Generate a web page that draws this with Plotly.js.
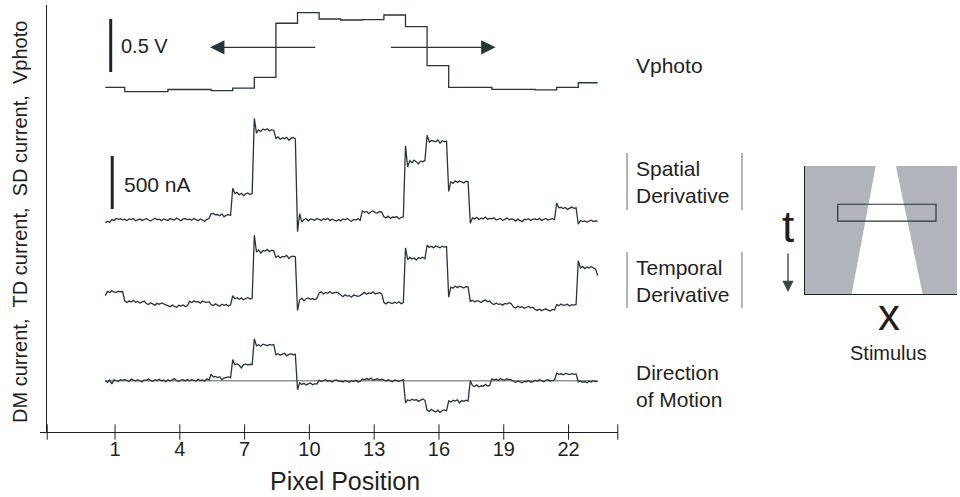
<!DOCTYPE html>
<html>
<head>
<meta charset="utf-8">
<script src="https://cdn.plot.ly/plotly-3.0.1.min.js"></script>
<style>
  html, body { margin: 0; padding: 0; background: #ffffff; }
  #chart { width: 960px; height: 497px; }
</style>
</head>
<body>
<div id="chart"></div>
<script>
// Pixel positions of the sensor row and the labelled ticks
const pixels = [1, 2, 3, 4, 5, 6, 7, 8, 9, 10, 11, 12, 13, 14, 15, 16, 17, 18, 19, 20, 21, 22, 23];
const tickPixels = [1, 4, 7, 10, 13, 16, 19, 22];

// Photoreceptor voltage, one level per pixel (V, relative to the dark level)
const vphoto = [0.016, -0.025, -0.025, -0.005, -0.005, -0.016, 0.009, 0.110, 0.620, 0.720, 0.660,
                0.651, 0.655, 0.698, 0.588, 0.220, 0.016, 0.016, -0.003, -0.003, -0.009, 0.016, 0.059];

// Sensor currents in nA, ten samples per pixel (the first pixel is cut to nine)
const sdCurrent = [
  -25, -12, -22, 4, -4, 15, 6, 12, 2,
  8, -6, 10, 4, 14, -8, 2, 9, -4, 6,
  12, 0, -10, 5, 16, 3, 8, -6, 10, 2,
  -4, 14, 6, 0, 18, 5, -7, 10, 12, 3,
  8, -2, 15, 4, -6, 10, 2, -12, 6, 14,
  60, 62, 48, 52, 40, 58, 30, 46, 50, 44,
  300, 250, 262, 238, 252, 230, 246, 255, 240, 250,
  960, 820, 850, 835, 858, 848, 860, 840, 852, 845,
  770, 785, 760, 775, 768, 780, 752, 772, 778, 765,
  -110, 60, -20, 5, 12, -8, 10, 4, -2, 14,
  6, -4, 12, 3, 16, -6, 8, 2, -10, 5,
  -8, 10, 2, 14, -2, -14, 6, 0, 12, -4,
  85, 72, 80, 60, 78, 85, 70, 66, 80, 74,
  30, 20, 36, 15, 28, 24, 32, 10, 26, 30,
  700, 500, 560, 540, 565, 545, 530, 555, 550, 560,
  800, 735, 750, 745, 738, 755, 725, 748, 740, 745,
  270, 360, 345, 370, 355, 368, 360, 350, 365, 360,
  -30, 20, 10, 25, 5, 18, 12, 28, 8, 15,
  12, 20, 0, 10, 15, -5, 8, 18, 2, 10,
  5, -10, 8, 0, -15, 6, 3, 12, -4, 8,
  10, 2, 15, -4, 8, 14, 0, 6, 12, 4,
  160, 115, 120, 108, 118, 100, 112, 122, 110, 115,
  -40, -5, -15, -8, -20, -10, -2, -14, -8, -10
];
const tdCurrent = [
  70, 110, 100, 115, 104, 98, 112, 106, 108,
  20, 5, 18, 10, 25, 8, 15, 0, 12, 18,
  -5, -15, 2, -10, -20, -3, -12, 0, -8, -14,
  -25, -35, -20, -30, -42, -22, -28, -18, -34, -26,
  15, 5, 20, 8, 14, -2, 18, 10, 6, 12,
  -15, -25, -8, -20, -30, -12, -22, -15, -28, -18,
  70, 40, 50, 35, 48, 30, 45, 52, 38, 44,
  640, 480, 500, 470, 495, 490, 505, 485, 498, 492,
  430, 445, 425, 440, 436, 450, 420, 438, 442, 435,
  -70, 30, 45, 20, 40, 48, 35, 42, 30, 45,
  95, 105, 85, 100, 92, 108, 90, 98, 102, 94,
  72, 60, 78, 65, 70, 55, 75, 68, 62, 70,
  88, 100, 82, 95, 90, 105, 85, 92, 98, 88,
  5, -8, 10, 0, -5, 8, -2, 12, -6, 4,
  520, 410, 430, 415, 425, 405, 428, 420, 432, 418,
  545, 525, 535, 520, 540, 530, 522, 536, 528, 532,
  55, 150, 140, 160, 145, 158, 150, 142, 155, 150,
  15, 25, 10, 22, 18, 5, 20, 28, 12, 18,
  -5, -15, 0, -12, -8, -20, -4, -10, 2, -8,
  -38, -48, -30, -42, -35, -50, -40, -32, -45, -40,
  -60, -70, -58, -72, -62, -55, -68, -75, -60, -65,
  -15, -25, -10, -22, -18, -12, -28, -16, -20, -14,
  400, 330, 345, 325, 340, 330, 345, 335, 320, 260
];
const dmCurrent = [
  0, -15, 5, -30, 8, 2, -6, 10, 4,
  12, 2, -8, 15, 6, -4, 10, 0, -12, 8,
  4, 16, 0, -6, 10, 2, 14, -2, 6, -10,
  8, -4, 12, 20, 2, -8, 6, 10, -2, 12,
  0, 10, 4, -6, 14, 2, 8, -4, 18, 6,
  60, 35, 40, 30, 38, 10, 25, 30, 35, 28,
  200, 150, 160, 145, 120, 150, 158, 148, 155, 152,
  395, 330, 340, 325, 345, 338, 330, 342, 335, 340,
  245, 255, 240, 250, 258, 235, 248, 252, 245, 250,
  -85, -20, -35, -25, -40, -30, -22, -38, -28, -32,
  5, -8, 0, 10, -5, 2, -12, 4, 8, -4,
  -5, -12, 2, -10, -15, 0, -8, 5, -12, -6,
  15, 8, 20, 10, 25, 5, 12, 18, 6, 14,
  5, -4, 8, 2, -10, 6, 0, -6, 4, 8,
  -210, -180, -190, -175, -185, -178, -195, -180, -172, -185,
  -280, -290, -270, -285, -295, -278, -300, -282, -275, -285,
  -190, -200, -185, -192, -180, -210, -188, -195, -185, -190,
  0, -45, -55, -40, -60, -48, -52, -35, -50, -45,
  18, 8, 15, 2, 20, 10, 5, 16, 12, 8,
  -5, -15, -2, -12, -20, -6, -10, 0, -14, -8,
  5, -6, 8, 0, -10, 4, 10, -4, 2, 6,
  70, 60, 65, 55, 68, 62, 58, 66, 60, 64,
  -10, -2, -15, -8, -20, -5, -12, 0, -8, -6
];

// Scale bars
const scaleVolts = 0.5;
const scaleNanoAmps = 500;

// Stimulus sketch: bright wedge in x-t space and the sampling window
const wedgeX = [0.465, 0.598, 0.774, 0.307, 0.465];
const wedgeT = [0, 0, 1, 1, 0];
const windowX = [0.215, 0.862, 0.862, 0.215, 0.215];
const windowT = [0.299, 0.299, 0.43, 0.43, 0.299];

// ---- stacking of the four records on one shared vertical scale (nA; 1 V drawn as 1000) ----
const UNITS_PER_VOLT = 1000;
const VP_BASE = 3236, SD_BASE = 2000, TD_BASE = 1217, DM_BASE = 484;
const FIRST_SAMPLE = 0.55, SAMPLE_STEP = 0.1, LAST_EDGE = 23.35;

const sampleX = sdCurrent.map((_, i) => +(FIRST_SAMPLE + SAMPLE_STEP * i).toFixed(2));
const vpX = pixels.map(p => Math.max(p - 0.55, FIRST_SAMPLE)).concat([LAST_EDGE]);
const vpY = vphoto.concat([vphoto[vphoto.length - 1]]).map(v => VP_BASE + v * UNITS_PER_VOLT);

const INK = '#27363b';
const TEXT = '#1f1f1f';
const FONT = 'Liberation Sans, Arial, Helvetica, sans-serif';

// page geometry helpers (pixel -> paper)
const W = 960, H = 497, L = 47, R = 2, T = 5, B = 65;
const plotW = W - L - R, plotH = H - T - B;
const px = x => (x - L) / plotW;
const py = y => (H - B - y) / plotH;

const xRange = [-2.15, 24.29];
const yRange = [0, plotH / 0.106];
const mainDomain = [0, px(618)];
// tick marks cross the axis line, including both ends of the axis
const axisTicks = [-2.14].concat(tickPixels, [24.28]);

const traces = [
  { x: vpX, y: vpY, mode: 'lines', line: { color: INK, width: 1.3, shape: 'hv' }, hoverinfo: 'skip' },
  { x: sampleX, y: sdCurrent.map(v => SD_BASE + v), mode: 'lines', line: { color: INK, width: 1.3 }, hoverinfo: 'skip' },
  { x: sampleX, y: tdCurrent.map(v => TD_BASE + v), mode: 'lines', line: { color: INK, width: 1.3 }, hoverinfo: 'skip' },
  { x: sampleX, y: dmCurrent.map(v => DM_BASE + v), mode: 'lines', line: { color: INK, width: 1.3 }, hoverinfo: 'skip' },
  { x: axisTicks, y: axisTicks.map(() => 0), mode: 'markers', cliponaxis: false, hoverinfo: 'skip',
    marker: { symbol: 'line-ns-open', size: 11, color: TEXT, line: { color: TEXT, width: 1 } } },
  { x: wedgeX, y: wedgeT, xaxis: 'x3', yaxis: 'y3', mode: 'lines', fill: 'toself',
    fillcolor: '#ffffff', line: { width: 0, color: '#ffffff' }, hoverinfo: 'skip' },
  { x: windowX, y: windowT, xaxis: 'x3', yaxis: 'y3', mode: 'lines',
    line: { color: INK, width: 1.2 }, hoverinfo: 'skip' }
];

const label = (text, x, y, opts) => Object.assign({
  text: text, x: px(x), y: py(y), xref: 'paper', yref: 'paper', showarrow: false,
  xanchor: 'left', yanchor: 'middle', align: 'left',
  font: { family: FONT, size: 21, color: TEXT }
}, opts || {});

const annotations = [
  label('0.5 V', 119, 46, { font: { family: FONT, size: 20, color: TEXT } }),
  label('500 nA', 122, 184),
  label('Vphoto', 634, 65),
  label('Spatial<br>Derivative', 634, 182),
  label('Temporal<br>Derivative', 634, 281),
  label('Direction<br>of Motion', 634, 386),
  label('t', 787.5, 226, { xanchor: 'center', font: { family: FONT, size: 44, color: TEXT } }),
  label('x', 889, 314, { xanchor: 'center', font: { family: FONT, size: 44, color: TEXT } }),
  label('Stimulus', 888.7, 353, { xanchor: 'center', font: { family: FONT, size: 20, color: TEXT } }),
  label('Pixel Position', 345, 481, { xanchor: 'center', font: { family: FONT, size: 25, color: TEXT } }),
  label('DM current,\u00a0\u00a0TD current,\u00a0\u00a0SD current,\u00a0\u00a0Vphoto', 20, 222,
        { xanchor: 'center', textangle: -90, font: { family: FONT, size: 20, color: TEXT } }),
  // motion arrows over the photoreceptor record
  { x: 5.4, y: 3629, ax: 10.34, ay: 3629, xref: 'x', yref: 'y', axref: 'x', ayref: 'y', text: '',
    showarrow: true, arrowhead: 2, arrowsize: 2.4, arrowwidth: 1.2, arrowcolor: INK },
  { x: 18.62, y: 3629, ax: 13.71, ay: 3629, xref: 'x', yref: 'y', axref: 'x', ayref: 'y', text: '',
    showarrow: true, arrowhead: 2, arrowsize: 2.4, arrowwidth: 1.2, arrowcolor: INK },
  // time arrow of the stimulus sketch
  { x: px(788), y: py(292), ax: 0, ay: -40, xref: 'paper', yref: 'paper', text: '',
    showarrow: true, arrowhead: 2, arrowsize: 1.6, arrowwidth: 1.4, arrowcolor: '#3a474c' }
];

const bracket = (x, y0, y1) => ({
  type: 'line', xref: 'paper', yref: 'paper', x0: px(x), x1: px(x), y0: py(y0), y1: py(y1),
  line: { color: '#6d6d6d', width: 1 }
});

const shapes = [
  // scale bars
  { type: 'line', xref: 'x', yref: 'y', x0: 0.8, x1: 0.8, y0: VP_BASE + 160, y1: VP_BASE + 160 + scaleVolts * UNITS_PER_VOLT,
    line: { color: '#1a2629', width: 3 } },
  { type: 'line', xref: 'x', yref: 'y', x0: 0.87, x1: 0.87, y0: SD_BASE + 104, y1: SD_BASE + 104 + scaleNanoAmps,
    line: { color: '#1a2629', width: 3 } },
  // zero line of the direction-of-motion record
  { type: 'line', xref: 'x', yref: 'y', x0: FIRST_SAMPLE, x1: LAST_EDGE, y0: DM_BASE, y1: DM_BASE,
    line: { color: '#8f969a', width: 1.6 }, layer: 'below' },
  bracket(627, 153, 210), bracket(742, 153, 210),
  bracket(627, 252, 308), bracket(742, 252, 308),
  // stimulus background
  { type: 'rect', xref: 'x3 domain', yref: 'y3 domain', x0: 0, x1: 1, y0: 0, y1: 1,
    fillcolor: '#b1b4ba', line: { width: 0 }, layer: 'below' }
];

const layout = {
  width: W, height: H,
  margin: { l: L, r: R, t: T, b: B, pad: 0 },
  paper_bgcolor: '#ffffff', plot_bgcolor: 'rgba(0,0,0,0)',
  showlegend: false,
  font: { family: FONT, color: TEXT },
  xaxis: {
    domain: mainDomain, range: xRange, anchor: 'y',
    tickvals: axisTicks,
    ticktext: [''].concat(tickPixels.map(String), ['']),
    ticks: '', ticklabelstandoff: -1,
    tickfont: { family: FONT, size: 20, color: TEXT },
    showline: true, linecolor: TEXT, linewidth: 1,
    showgrid: false, zeroline: false
  },
  yaxis: {
    domain: [0, 1], range: yRange, anchor: 'x',
    tickvals: [0], ticks: 'outside', ticklen: 6, tickwidth: 1, tickcolor: TEXT,
    showticklabels: false, showline: true, linecolor: TEXT, linewidth: 1,
    showgrid: false, zeroline: false
  },
  xaxis3: {
    domain: [px(805), px(957)], range: [0, 1], anchor: 'y3',
    showline: true, linecolor: '#1c2629', linewidth: 1.3,
    ticks: '', showticklabels: false, showgrid: false, zeroline: false
  },
  yaxis3: {
    domain: [py(294), py(166)], range: [1, 0], anchor: 'x3',
    showline: true, linecolor: '#1c2629', linewidth: 1.3,
    ticks: '', showticklabels: false, showgrid: false, zeroline: false
  },
  annotations: annotations,
  shapes: shapes
};

Plotly.newPlot('chart', traces, layout, { displayModeBar: false, staticPlot: true });
</script>
</body>
</html>
